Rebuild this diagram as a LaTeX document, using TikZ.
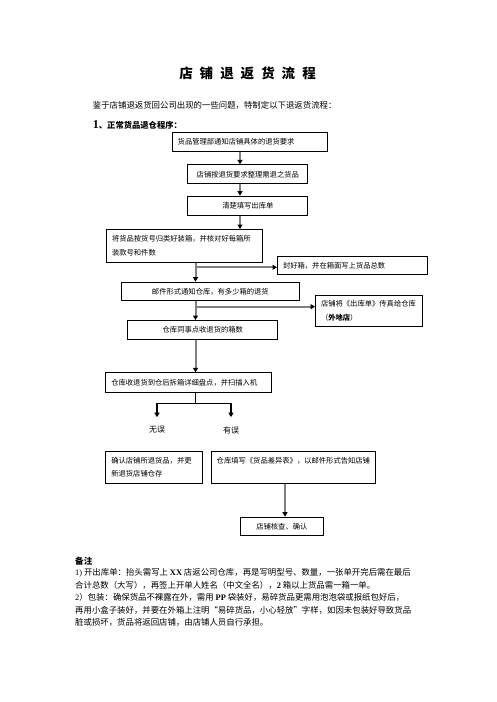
\documentclass[tikz,border=0pt]{standalone}
\usepackage{fontspec}
\setmainfont{Noto Sans CJK SC}
\newfontfamily\latinrm{Liberation Serif}
\usetikzlibrary{arrows.meta}

\tikzset{
    box/.style={draw, line width=1pt, anchor=north west, inner xsep=5.5pt, inner ysep=2pt,
        font=\fontsize{7.3}{13.5}\selectfont},
    lbox/.style={box, align=left},
    cbox/.style={box, align=center},
    flow/.style={draw=black!50, line width=2pt, -{Triangle[width=5pt,length=4.5pt,color=black]}},
    split/.style={line width=1.2pt, -{Triangle[width=5pt,length=4.5pt]}},
    txt/.style={anchor=west, inner sep=0pt, font=\fontsize{8.4}{10}\selectfont},
    word/.style={inner sep=3pt, font=\fontsize{8}{10}\selectfont},
}

\begin{document}
\begin{tikzpicture}[x=1pt, y=-1pt]
    \useasboundingbox (0,0) rectangle (496,702);

    % heading texts
    \node[inner sep=0pt, font=\bfseries\fontsize{13.5}{16}\selectfont] (title) at (247.5,73.3)
        {店\hspace{7pt}铺\hspace{7pt}退\hspace{7pt}返\hspace{7pt}货\hspace{7pt}流\hspace{7pt}程};
    \node[txt] (intro) at (92.7,105) {鉴于店铺退返货回公司出现的一些问题，特制定以下退返货流程：};
    \node[txt, font=\bfseries\fontsize{8.3}{10}\selectfont] (head) at (92.7,125)
        {{\latinrm\fontsize{12}{12}\selectfont 1}、正常货品退仓程序：};

    % boxes
    \node[lbox, text width=144pt, minimum height=19pt] (notice) at (171.7,131.7) {货品管理部通知店铺具体的退货要求};
    \node[cbox, minimum width=120pt, minimum height=19pt] (sort) at (187.3,164.3) {店铺按退货要求整理需退之货品};
    \node[cbox, minimum width=120pt, minimum height=19.3pt] (form) at (187.3,195.7) {清楚填写出库单};
    \node[lbox, text width=145.3pt, minimum height=32.7pt] (pack) at (106,229)
        {将货品按货号归类好装箱，并核对好每箱所\\装款号和件数};
    \node[lbox, text width=139.3pt, minimum height=18.3pt] (seal) at (277,256) {封好箱，并在箱面写上货品总数};
    \node[cbox, minimum width=178.3pt, minimum height=18.3pt] (mail) at (120.7,281.7) {邮件形式通知仓库，有多少箱的退货};
    \node[lbox, text width=96.3pt, minimum height=31pt] (fax) at (315,295)
        {店铺将《出库单》传真给仓库\\（{\bfseries 外地店}）};
    \node[cbox, minimum width=150pt, minimum height=19.3pt] (count) at (127.3,320) {仓库同事点收退货的箱数};
    \node[lbox, text width=154.3pt, minimum height=19.3pt] (check) at (105.3,372.3) {仓库收退货到仓后拆箱详细盘点，并扫描入机};
    \node[word] (ok) at (157,430) {无误};
    \node[word] (err) at (231,430) {有误};
    \node[lbox, text width=86pt, minimum height=31.7pt] (update) at (105.3,451)
        {确认店铺所退货品，并更\\新退货店铺仓存};
    \node[lbox, text width=153.7pt, minimum height=31.7pt] (diff) at (210.7,451)
        {仓库填写《货品差异表》，以邮件形式告知店铺\\~};
    \node[cbox, minimum width=82.7pt, minimum height=18.3pt] (confirm) at (240,516.7) {店铺核查、确认};

    % connectors
    \coordinate (axa) at (240,0);
    \coordinate (axb) at (195.5,0);
    \coordinate (axc) at (285,0);
    \coordinate (bra) at (195.5,267.3);
    \coordinate (brb) at (195.5,306.7);
    \coordinate (sp) at (195.5,403.3);

    \draw[flow] (notice.south -| axa) -- (sort.north -| axa);
    \draw[flow] (sort.south -| axa) -- (form.north -| axa);
    \draw[flow] (form.south -| axa) -- (pack.north -| axa);
    \draw[flow] (pack.south -| axb) -- (mail.north -| axb);
    \draw[flow] (bra) -- (bra -| seal.west);
    \draw[flow] (mail.south -| axb) -- (count.north -| axb);
    \draw[flow] (brb) -- (brb -| fax.west);
    \draw[flow] (count.south -| axb) -- (check.north -| axb);

    \draw[line width=1.2pt] (check.south -| sp) -- (sp);
    \draw[split] (sp) -| ([yshift=6pt]ok.north);
    \draw[split] (sp) -| ([yshift=6pt]err.north);

    \draw[flow] (diff.south -| axc) -- (confirm.north -| axc);

    % remarks
    \node[txt, font=\bfseries\fontsize{8.6}{10}\selectfont] (remark) at (75,561) {备注};
    \node[txt] (rmka) at (75,573.3) {{\latinrm 1)} 开出库单：抬头需写上 {\latinrm\bfseries XX} 店返公司仓库，再是写明型号、数量，一张单开完后需在最后};
    \node[txt] (rmkb) at (75,585) {合计总数（大写），再签上开单人姓名（中文全名），{\latinrm\bfseries 2} 箱以上货品需一箱一单。};
    \node[txt] (rmkc) at (75,597.5) {{\latinrm 2}）包装：确保货品不裸露在外，需用 {\latinrm\bfseries PP} 袋装好，易碎货品更需用泡泡袋或报纸包好后，};
    \node[txt] (rmkd) at (75,610) {再用小盒子装好，并要在外箱上注明“易碎货品，小心轻放”字样，如因未包装好导致货品};
    \node[txt] (rmke) at (75,622.7) {脏或损坏，货品将返回店铺，由店铺人员自行承担。};
\end{tikzpicture}
\end{document}
